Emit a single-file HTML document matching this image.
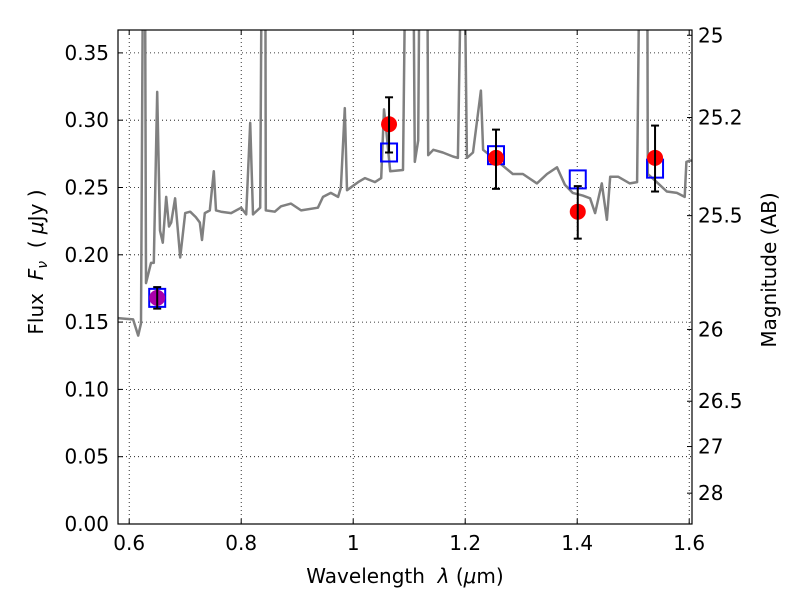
<!DOCTYPE html>
<html><head><meta charset="utf-8"><style>
body{margin:0;background:#fff;}
svg text{font-family:"DejaVu Sans","Liberation Sans",sans-serif;font-size:20px;fill:#000;white-space:pre;}
</style></head><body>
<svg id="chart" width="800" height="600" xmlns="http://www.w3.org/2000/svg">
<defs><clipPath id="clip"><rect x="118" y="30" width="574" height="494"/></clipPath></defs>
<rect x="0" y="0" width="800" height="600" fill="#fff"/>
<g id="grid"></g>
<g id="spec" clip-path="url(#clip)"></g>
<g id="pts"></g>
<rect x="118" y="30" width="574" height="494" fill="none" stroke="#000" stroke-width="1.2"/>
<g id="axes"></g>
<text x="405" y="583" text-anchor="middle">Wavelength  <tspan font-style="italic">λ</tspan> (<tspan font-style="italic">μ</tspan>m)</text>
<text transform="translate(43,262) rotate(-90)" text-anchor="middle">Flux  <tspan font-style="italic">F</tspan><tspan font-style="italic" font-size="14" dy="4">ν</tspan><tspan dy="-4">  ( </tspan><tspan font-style="italic">μ</tspan>Jy )</text>
<text transform="translate(776,270) rotate(-90)" text-anchor="middle">Magnitude (AB)</text>
</svg>
<script>
const xTicks=[0.6,0.8,1.0,1.2,1.4,1.6];
const xTickLabels=["0.6","0.8","1","1.2","1.4","1.6"];
const yTicks=[0,0.05,0.1,0.15,0.2,0.25,0.3,0.35];
const yTickLabels=["0.00","0.05","0.10","0.15","0.20","0.25","0.30","0.35"];
const magTicks=[25,25.2,25.5,26,26.5,27,28];
const magTickLabels=["25","25.2","25.5","26","26.5","27","28"];
const specWave=[0.580,0.607,0.616,0.621,0.625,0.628,0.630,0.639,0.644,0.650,0.655,0.660,0.666,0.671,0.675,0.682,0.691,0.700,0.709,0.719,0.726,0.730,0.735,0.744,0.751,0.755,0.764,0.782,0.800,0.809,0.816,0.821,0.834,0.837,0.843,0.844,0.860,0.871,0.889,0.907,0.937,0.946,0.960,0.973,0.978,0.985,0.989,1.009,1.021,1.039,1.050,1.055,1.059,1.066,1.089,1.094,1.107,1.110,1.116,1.119,1.132,1.134,1.143,1.160,1.178,1.187,1.194,1.198,1.203,1.214,1.228,1.232,1.262,1.285,1.303,1.328,1.346,1.364,1.378,1.392,1.410,1.423,1.432,1.444,1.453,1.459,1.473,1.494,1.507,1.512,1.525,1.526,1.542,1.560,1.578,1.592,1.595,1.601,1.606];
const specFlux=[0.153,0.152,0.140,0.149,0.45,0.45,0.179,0.194,0.194,0.321,0.218,0.209,0.243,0.221,0.224,0.242,0.198,0.231,0.232,0.228,0.224,0.211,0.231,0.233,0.262,0.233,0.232,0.231,0.235,0.230,0.298,0.230,0.235,0.45,0.45,0.233,0.232,0.236,0.238,0.233,0.235,0.243,0.246,0.243,0.250,0.309,0.248,0.254,0.257,0.254,0.257,0.308,0.293,0.262,0.263,0.45,0.45,0.269,0.285,0.45,0.45,0.274,0.278,0.276,0.273,0.272,0.45,0.45,0.272,0.276,0.322,0.278,0.268,0.260,0.260,0.253,0.260,0.265,0.252,0.246,0.244,0.242,0.231,0.253,0.226,0.258,0.258,0.253,0.254,0.45,0.45,0.260,0.254,0.247,0.246,0.243,0.269,0.270,0.270];
const obsWave=[1.064,1.255,1.401,1.539];
const obsFlux=[0.297,0.272,0.232,0.272];
const obsErrLow=[0.276,0.249,0.212,0.247];
const obsErrHigh=[0.317,0.293,0.251,0.296];
const modelWave=[0.650,1.064,1.255,1.401,1.539];
const modelFlux=[0.168,0.276,0.274,0.256,0.264];
const extraWave=[0.650];
const extraFlux=[0.168];
const extraErrLow=[0.160];
const extraErrHigh=[0.176];

const X0=118,X1=692,Y0=524,Y1=30,xmin=0.58,xmax=1.605,ymin=0,ymax=0.367;
const sx=v=>X0+(v-xmin)/(xmax-xmin)*(X1-X0);
const sy=v=>Y0-(v-ymin)/(ymax-ymin)*(Y0-Y1);
const magToFlux=m=>Math.pow(10,(23.9-m)/2.5);
const NS="http://www.w3.org/2000/svg";
function mk(tag,attrs,parent){const e=document.createElementNS(NS,tag);for(const k in attrs)e.setAttribute(k,attrs[k]);parent.appendChild(e);return e;}
const grid=document.getElementById('grid'),axes=document.getElementById('axes'),spec=document.getElementById('spec'),pts=document.getElementById('pts');
xTicks.forEach((t,i)=>{const x=sx(t);
 const g=mk('line',{x1:x,x2:x,y1:Y1,y2:Y0,stroke:'#000','stroke-width':0.8,'stroke-dasharray':'1,3'},grid);
 
 
 mk('line',{x1:x,x2:x,y1:Y0,y2:Y0-5,stroke:'#000'},axes);
 mk('line',{x1:x,x2:x,y1:Y1,y2:Y1+5,stroke:'#000'},axes);
 const tx=mk('text',{x:x,y:Y0+26,'text-anchor':'middle'},axes);tx.textContent=xTickLabels[i];
 
 
});
yTicks.forEach((t,i)=>{const y=sy(t);
 const g=mk('line',{x1:X0,x2:X1,y1:y,y2:y,stroke:'#000','stroke-width':0.8,'stroke-dasharray':'1,3'},grid);
 
 
 mk('line',{x1:X0,x2:X0+5,y1:y,y2:y,stroke:'#000'},axes);
 const tx=mk('text',{x:X0-9,y:y+7,'text-anchor':'end'},axes);tx.textContent=yTickLabels[i];
 
 
});
magTicks.forEach((m,i)=>{const y=sy(magToFlux(m));
 mk('line',{x1:X1,x2:X1-5,y1:y,y2:y,stroke:'#000'},axes);
 const tx=mk('text',{x:X1+6,y:y+7,'text-anchor':'start'},axes);tx.textContent=magTickLabels[i];
 
 
});
const d=specWave.map((w,i)=>(i?'L':'M')+sx(w).toFixed(1)+','+sy(specFlux[i]).toFixed(1)).join(' ');
const sp=mk('path',{d:d,fill:'none',stroke:'#808080','stroke-width':2.5,'stroke-linejoin':'round'},spec);


function errbar(w,lo,hi){const x=sx(w);
 mk('line',{x1:x,x2:x,y1:sy(lo),y2:sy(hi),stroke:'#000','stroke-width':2},pts);
 mk('line',{x1:x-4,x2:x+4,y1:sy(lo),y2:sy(lo),stroke:'#000','stroke-width':2},pts);
 mk('line',{x1:x-4,x2:x+4,y1:sy(hi),y2:sy(hi),stroke:'#000','stroke-width':2},pts);}
modelWave.forEach((w,i)=>{const r=mk('rect',{x:sx(w)-8,y:sy(modelFlux[i])-9,width:16,height:18,fill:'none',stroke:'#0000ff','stroke-width':2},pts);
 
 });
extraWave.forEach((w,i)=>{const c=mk('circle',{cx:sx(w),cy:sy(extraFlux[i]),r:8,fill:'#aa00aa'},pts);
 
 
 errbar(w,extraErrLow[i],extraErrHigh[i]);});
obsWave.forEach((w,i)=>{const c=mk('circle',{cx:sx(w),cy:sy(obsFlux[i]),r:8,fill:'#ff0000'},pts);
 
 
 errbar(w,obsErrLow[i],obsErrHigh[i]);});
</script>
</body></html>
